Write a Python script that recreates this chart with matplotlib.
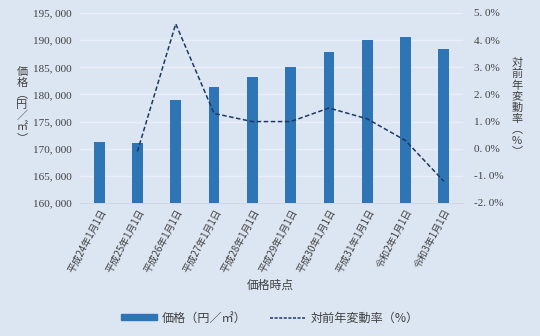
import matplotlib
matplotlib.use("Agg")
import matplotlib.pyplot as plt
from matplotlib.ticker import FuncFormatter, MultipleLocator
from matplotlib.patches import Patch
from matplotlib.lines import Line2D

categories = ["平成24年1月1日", "平成25年1月1日", "平成26年1月1日", "平成27年1月1日",
              "平成28年1月1日", "平成29年1月1日", "平成30年1月1日", "平成31年1月1日",
              "令和2年1月1日", "令和3年1月1日"]
prices = [171300, 171100, 179000, 181400, 183300, 185100, 187900, 190000, 190600, 188400]
change_pct = [None, -0.1, 4.6, 1.3, 1.0, 1.0, 1.5, 1.1, 0.3, -1.2]
left_label = ["価", "格", "︵", "円", "／", "㎡", "︶"]
right_label = ["対", "前", "年", "変", "動", "率", "︵", "%", "︶"]

BG = "#dce6f2"
GRID = "#e9eff8"
BAR = "#2e75b6"
LINE = "#1f3864"
TXT = "#404040"
JP = ["Noto Sans CJK JP", "DejaVu Sans"]
NUM = ["Liberation Serif", "Noto Sans CJK JP"]

W, H = 540, 336
fig = plt.figure(figsize=(5.4, 3.36), dpi=100, facecolor=BG)
ax = fig.add_axes([80/W, 1-203/H, 383/W, 190/H])
ax.set_facecolor(BG)
x = list(range(len(categories)))
ax.bar(x, prices, width=0.28, color=BAR, zorder=3)
ax.set_ylim(160000, 195000)
ax.set_xlim(-0.5, len(categories)-0.5)
ax.yaxis.set_major_locator(MultipleLocator(5000))
ax.yaxis.set_major_formatter(FuncFormatter(lambda v, p: f"{int(v):,}".replace(",", ", ")))
ax.grid(axis="y", color=GRID, linewidth=1.0, zorder=0)
for s in ax.spines.values():
    s.set_visible(False)
ax.spines["bottom"].set_visible(True)
ax.spines["bottom"].set_color("#d0d8e4")
ax.tick_params(axis="y", length=0, pad=6, labelsize=8, labelcolor=TXT)
ax.tick_params(axis="x", length=0, pad=3)
ax.set_xticks(x)
ax.set_xticklabels(categories, rotation=62, ha="right", va="top",
                   rotation_mode="anchor", fontsize=7, color=TXT, family=JP)
for lab in ax.get_yticklabels():
    lab.set_family(NUM)

ax2 = ax.twinx()
xs = [i for i, v in enumerate(change_pct) if v is not None]
ys = [v for v in change_pct if v is not None]
ax2.plot(xs, ys, color=LINE, linestyle=(0, (3, 1.6)), linewidth=1.1, zorder=4)
ax2.set_ylim(-2.0, 5.0)
ax2.yaxis.set_major_locator(MultipleLocator(1.0))
ax2.yaxis.set_major_formatter(FuncFormatter(lambda v, p: f"{v:.1f}".replace(".", ". ") + "%"))
for s in ax2.spines.values():
    s.set_visible(False)
ax2.tick_params(axis="y", length=0, pad=8, labelsize=8, labelcolor=TXT)
for lab in ax2.get_yticklabels():
    lab.set_family(NUM)

# vertical axis titles (stacked characters)
fig.text(22/W, 1-105/H, "\n".join(left_label), ha="center", va="center", ma="center",
         fontsize=8, linespacing=1.12, color=TXT, family=JP)
fig.text(517/W, 1-107/H, "\n".join(right_label), ha="center", va="center", ma="center",
         fontsize=8, linespacing=1.12, color=TXT, family=JP)

fig.text(270/W, 1-285/H, "価格時点", ha="center", va="center",
         fontsize=8.5, color=TXT, family=JP)

handles = [Patch(facecolor=BAR, edgecolor=BAR),
           Line2D([0], [0], color=LINE, linestyle=(0, (2, 1)), linewidth=1.1)]
labels = ["価格（円／㎡）", "対前年変動率（%）"]
leg = fig.legend(handles, labels, loc="center", bbox_to_anchor=(270/W, 1-318/H),
                 ncol=2, frameon=False, handlelength=2.9, handleheight=0.35,
                 columnspacing=1.9, handletextpad=0.45, prop={"family": JP, "size": 8.7})
for t in leg.get_texts():
    t.set_color(TXT)

fig.savefig("out.png", dpi=100, facecolor=BG)
